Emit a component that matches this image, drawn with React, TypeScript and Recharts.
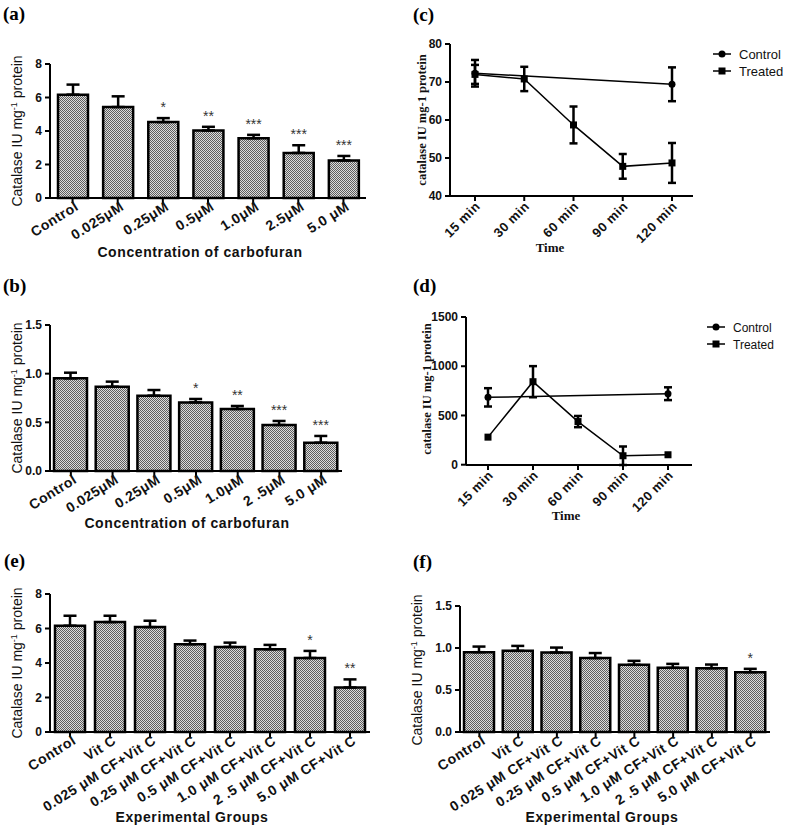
import React from 'react';
import { BarChart, Bar, LineChart, Line, XAxis, YAxis, ErrorBar, LabelList, Label, Legend } from 'recharts';

// ---- data ----
const concCatsA = ['Control', '0.025μM', '0.25μM', '0.5μM', '1.0μM', '2.5μM', '5.0 μM'];
const concCatsB = ['Control', '0.025μM', '0.25μM', '0.5μM', '1.0μM', '2 .5μM', '5.0 μM'];
const groupCats = ['Control', 'Vit C', '0.025 μM CF+Vit C', '0.25 μM CF+Vit C', '0.5 μM CF+Vit C', '1.0 μM CF+Vit C', '2 .5 μM CF+Vit C', '5.0 μM CF+Vit C'];
const timeCats = ['15 min', '30 min', '60 min', '90 min', '120 min'];

const aValues = [6.17, 5.43, 4.53, 4.03, 3.57, 2.69, 2.24];
const aErrors = [0.6, 0.64, 0.24, 0.22, 0.2, 0.46, 0.27];
const aStars = ['', '', '*', '**', '***', '***', '***'];

const bValues = [0.952, 0.866, 0.774, 0.705, 0.637, 0.473, 0.291];
const bErrors = [0.058, 0.052, 0.058, 0.035, 0.031, 0.041, 0.069];
const bStars = ['', '', '', '*', '**', '***', '***'];

const eValues = [6.16, 6.37, 6.08, 5.09, 4.93, 4.8, 4.29, 2.58];
const eErrors = [0.58, 0.37, 0.37, 0.21, 0.25, 0.25, 0.41, 0.47];
const eStars = ['', '', '', '', '', '', '*', '**'];

const fValues = [0.95, 0.966, 0.946, 0.88, 0.8, 0.764, 0.76, 0.712];
const fErrors = [0.067, 0.059, 0.059, 0.06, 0.047, 0.047, 0.043, 0.04];
const fStars = ['', '', '', '', '', '', '', '*'];

const cControl = [72.3, null, null, null, 69.4];
const cControlErr = [3.5, null, null, null, 4.45];
const cTreated = [72.0, 70.8, 58.7, 47.8, 48.7];
const cTreatedErr = [2.5, 3.2, 4.85, 3.25, 5.25];

const dControl = [684, null, null, null, 721];
const dControlErr = [93, null, null, null, 65];
const dTreated = [280, 843, 438, 91, 101];
const dTreatedErr = [null, 158, 57, 94, null];

const ticks8 = [0, 2, 4, 6, 8];
const ticks15 = [0, 0.5, 1.0, 1.5];
const ticksC = [40, 50, 60, 70, 80];
const ticksD = [0, 500, 1000, 1500];

const FONT = '"Liberation Sans", Arial, sans-serif';
const NARROW = '"Liberation Sans Narrow", "Liberation Sans", Arial, sans-serif';
const SERIF = '"Liberation Serif", "Times New Roman", serif';

const AXW = 40;
const AXH = 60;

const PanelLetter = ({ text, x, y }: { text: string; x: number; y: number }) => (
  <div style={{ position: 'absolute', left: x, top: y, fontFamily: SERIF, fontWeight: 'bold', fontSize: 19, lineHeight: '19px' }}>{text}</div>
);

const RotTick = (props: any) => {
  const { x, y, payload, angle, fs, dx, dy } = props;
  const ax = x + dx;
  const ay = y + dy;
  return (
    <text x={ax} y={ay} transform={`rotate(${angle}, ${ax}, ${ay})`} textAnchor="end"
      fontSize={fs} fontWeight="bold" fontFamily={FONT} letterSpacing={0.5} fill="#111">
      {payload.value}
    </text>
  );
};

const starContent = (vals: number[], errs: number[]) => (props: any) => {
  const vb = props.viewBox || {};
  const x = props.x ?? vb.x;
  const y = props.y ?? vb.y;
  const w = props.width ?? vb.width;
  const h = props.height ?? vb.height;
  const i = props.index;
  if (!props.value || i == null) return null;
  const top = y - errs[i] * (h / vals[i]);
  return (
    <text x={x + w / 2} y={top - 6} textAnchor="middle" fontSize={14} fill="#333" fontFamily={FONT}>{props.value}</text>
  );
};

type BarPanelProps = {
  left: number; top: number; width: number; height: number;
  plot: [number, number, number, number];
  cats: string[]; vals: number[]; errs: number[]; stars: string[];
  yMax: number; yTicks: number[]; decimals: number;
  barSize: number;
  letter: string; letterPos: [number, number];
  yTitlePos: [number, number];
  xTitle: string; xTitlePos: [number, number];
};

const BarPanel = (p: BarPanelProps) => {
  const data = p.cats.map((c, i) => ({ cat: c, v: p.vals[i], e: [0, p.errs[i]], star: p.stars[i] }));
  const [x0, y0, x1, y1] = p.plot;
  const margin = { top: y0 - p.top, left: x0 - p.left - AXW, right: p.left + p.width - x1, bottom: p.top + p.height - y1 - AXH };
  const ytx = p.yTitlePos[0] - p.left + 5;
  const yty = p.yTitlePos[1] - p.top;
  const xtx = p.xTitlePos[0] - p.left;
  const xty = p.xTitlePos[1] - p.top + 5;
  return (
    <>
      <div style={{ position: 'absolute', left: p.left, top: p.top }}>
        <BarChart width={p.width} height={p.height} data={data} margin={margin}>
          <defs>
            <pattern id="chk" width="2" height="2" patternUnits="userSpaceOnUse">
              <rect width="2" height="2" fill="#dcdcdc" />
              <rect width="1" height="1" fill="#5e5e5e" />
              <rect x="1" y="1" width="1" height="1" fill="#5e5e5e" />
            </pattern>
          </defs>
          <XAxis dataKey="cat" height={AXH} interval={0} tickSize={5}
            axisLine={{ stroke: '#000', strokeWidth: 2 }} tickLine={{ stroke: '#000', strokeWidth: 2 }}
            tick={(t: any) => <RotTick {...t} angle={-32} fs={14} dx={7} dy={4} />}>
            <Label content={() => (
              <text x={xtx} y={xty} textAnchor="middle" fontSize={14} fontWeight="bold" letterSpacing={0.6} fontFamily={FONT} fill="#111">{p.xTitle}</text>
            )} />
          </XAxis>
          <YAxis width={AXW} domain={[0, p.yMax]} ticks={p.yTicks} interval={0} tickSize={5} tickMargin={3}
            tickFormatter={(v: number) => v.toFixed(p.decimals)}
            axisLine={{ stroke: '#000', strokeWidth: 2 }} tickLine={{ stroke: '#000', strokeWidth: 2 }}
            tick={{ fontSize: 12, fontWeight: 'bold', fill: '#111', fontFamily: FONT }}>
            <Label content={() => (
              <text x={ytx} y={yty} transform={`rotate(-90, ${ytx}, ${yty})`} textAnchor="middle" fontSize={14} fontFamily={NARROW} fill="#111">
                Catalase IU mg<tspan dy={-5} fontSize={9}>-1</tspan><tspan dy={5}> protein</tspan>
              </text>
            )} />
          </YAxis>
          <Bar dataKey="v" fill="url(#chk)" stroke="#000" strokeWidth={2.5} barSize={p.barSize} isAnimationActive={false}>
            <ErrorBar dataKey="e" direction="y" width={6.5} stroke="#000" strokeWidth={2.5} />
            <LabelList dataKey="star" content={starContent(p.vals, p.errs)} />
          </Bar>
        </BarChart>
      </div>
      <PanelLetter text={p.letter} x={p.letterPos[0]} y={p.letterPos[1]} />
    </>
  );
};

const CircleDot = (props: any) => {
  const { cx, cy, index, value } = props;
  if (value == null || cx == null || cy == null) return <g key={`c${index}`} />;
  return <circle key={`c${index}`} cx={cx} cy={cy} r={3.5} fill="#000" />;
};
const SquareDot = (props: any) => {
  const { cx, cy, index, value } = props;
  if (value == null || cx == null || cy == null) return <g key={`s${index}`} />;
  return <rect key={`s${index}`} x={cx - 3.5} y={cy - 3.5} width={7} height={7} fill="#000" />;
};

const legendContent = (fs: number, gap: number) => (props: any) => {
  const items = props.payload || [];
  return (
    <svg width={90} height={gap * 2 + 6}>
      {items.map((it: any, i: number) => {
        const cy = 8 + i * gap;
        return (
          <g key={it.value}>
            <line x1={0} x2={18} y1={cy} y2={cy} stroke="#000" strokeWidth={1.5} />
            {i === 0 ? <circle cx={9} cy={cy} r={3.5} fill="#000" /> : <rect x={5.5} y={cy - 3.5} width={7} height={7} fill="#000" />}
            <text x={26} y={cy + 4.5} fontSize={fs} fontFamily={FONT} fill="#111">{it.value}</text>
          </g>
        );
      })}
    </svg>
  );
};

type LinePanelProps = {
  left: number; top: number; width: number; height: number;
  plot: [number, number, number, number];
  pad: [number, number];
  ctrl: (number | null)[]; ctrlErr: (number | null)[];
  trt: (number | null)[]; trtErr: (number | null)[];
  domain: [number, number]; yTicks: number[];
  letter: string; letterPos: [number, number];
  yTitlePos: [number, number];
  xTitlePos: [number, number];
  legendPos: [number, number]; legendFs: number;
};

const LinePanel = (p: LinePanelProps) => {
  const data = timeCats.map((t, i) => ({ t, ctrl: p.ctrl[i], ctrlErr: p.ctrlErr[i], trt: p.trt[i], trtErr: p.trtErr[i] }));
  const [x0, y0, x1, y1] = p.plot;
  const margin = { top: y0 - p.top, left: x0 - p.left - AXW, right: p.left + p.width - x1, bottom: p.top + p.height - y1 - AXH };
  const ytx = p.yTitlePos[0] - p.left + 4;
  const yty = p.yTitlePos[1] - p.top;
  const xtx = p.xTitlePos[0] - p.left;
  const xty = p.xTitlePos[1] - p.top + 4;
  return (
    <>
      <div style={{ position: 'absolute', left: p.left, top: p.top }}>
        <LineChart width={p.width} height={p.height} data={data} margin={margin}>
          <XAxis dataKey="t" height={AXH} interval={0} tickSize={5} padding={{ left: p.pad[0], right: p.pad[1] }}
            axisLine={{ stroke: '#000', strokeWidth: 2 }} tickLine={{ stroke: '#000', strokeWidth: 2 }}
            tick={(t: any) => <RotTick {...t} angle={-45} fs={13} dx={6} dy={4} />}>
            <Label content={() => (
              <text x={xtx} y={xty} textAnchor="middle" fontSize={13} fontWeight="bold" fontFamily={SERIF} fill="#111">Time</text>
            )} />
          </XAxis>
          <YAxis width={AXW} domain={p.domain} ticks={p.yTicks} interval={0} tickSize={5} tickMargin={3}
            axisLine={{ stroke: '#000', strokeWidth: 2 }} tickLine={{ stroke: '#000', strokeWidth: 2 }}
            tick={{ fontSize: 12, fontWeight: 'bold', fill: '#111', fontFamily: FONT }}>
            <Label content={() => (
              <text x={ytx} y={yty} transform={`rotate(-90, ${ytx}, ${yty})`} textAnchor="middle" fontSize={12.5} fontWeight="bold" fontFamily={SERIF} fill="#111">
                catalase IU mg-1 protein
              </text>
            )} />
          </YAxis>
          <Legend layout="vertical" align="center" verticalAlign="middle"
            wrapperStyle={{ left: p.legendPos[0] - p.left, top: p.legendPos[1] - p.top - 8, width: 90 }}
            content={legendContent(p.legendFs, 17)} />
          <Line dataKey="ctrl" name="Control" connectNulls stroke="#000" strokeWidth={1.5} dot={CircleDot} isAnimationActive={false}>
            <ErrorBar dataKey="ctrlErr" direction="y" width={4} stroke="#000" strokeWidth={2.5} />
          </Line>
          <Line dataKey="trt" name="Treated" stroke="#000" strokeWidth={1.5} dot={SquareDot} isAnimationActive={false}>
            <ErrorBar dataKey="trtErr" direction="y" width={4} stroke="#000" strokeWidth={2.5} />
          </Line>
        </LineChart>
      </div>
      <PanelLetter text={p.letter} x={p.letterPos[0]} y={p.letterPos[1]} />
    </>
  );
};

export default function App() {
  return (
    <div style={{ position: 'absolute', left: 0, top: 0, width: 791, height: 829, background: '#fff', overflow: 'hidden' }}>
      <BarPanel left={0} top={0} width={395} height={262} plot={[50, 64, 366, 198]}
        cats={concCatsA} vals={aValues} errs={aErrors} stars={aStars}
        yMax={8} yTicks={ticks8} decimals={0} barSize={30}
        letter="(a)" letterPos={[3, 4]} yTitlePos={[17, 131]}
        xTitle="Concentration of carbofuran" xTitlePos={[200, 252]} />
      <BarPanel left={0} top={268} width={395} height={265} plot={[50, 325, 342, 471]}
        cats={concCatsB} vals={bValues} errs={bErrors} stars={bStars}
        yMax={1.5} yTicks={ticks15} decimals={1} barSize={33}
        letter="(b)" letterPos={[3, 276]} yTitlePos={[17, 398]}
        xTitle="Concentration of carbofuran" xTitlePos={[187, 523]} />
      <BarPanel left={0} top={540} width={395} height={289} plot={[50, 594, 370, 732]}
        cats={groupCats} vals={eValues} errs={eErrors} stars={eStars}
        yMax={8} yTicks={ticks8} decimals={0} barSize={30}
        letter="(e)" letterPos={[4, 551]} yTitlePos={[17, 663]}
        xTitle="Experimental Groups" xTitlePos={[192, 817]} />
      <BarPanel left={400} top={540} width={391} height={289} plot={[460, 606, 770, 732]}
        cats={groupCats} vals={fValues} errs={fErrors} stars={fStars}
        yMax={1.5} yTicks={ticks15} decimals={1} barSize={30}
        letter="(f)" letterPos={[413, 552]} yTitlePos={[417, 670]}
        xTitle="Experimental Groups" xTitlePos={[602, 817]} />
      <LinePanel left={400} top={0} width={391} height={262} plot={[450, 44, 693, 196]} pad={[25, 21]}
        ctrl={cControl} ctrlErr={cControlErr} trt={cTreated} trtErr={cTreatedErr}
        domain={[40, 80]} yTicks={ticksC}
        letter="(c)" letterPos={[413, 5]} yTitlePos={[422, 120]} xTitlePos={[550, 248]}
        legendPos={[713, 54]} legendFs={13} />
      <LinePanel left={400} top={268} width={391} height={265} plot={[466, 317, 692, 465]} pad={[22, 24]}
        ctrl={dControl} ctrlErr={dControlErr} trt={dTreated} trtErr={dTreatedErr}
        domain={[0, 1500]} yTicks={ticksD}
        letter="(d)" letterPos={[413, 276]} yTitlePos={[427, 389]} xTitlePos={[566, 516]}
        legendPos={[707, 327]} legendFs={12} />
    </div>
  );
}
